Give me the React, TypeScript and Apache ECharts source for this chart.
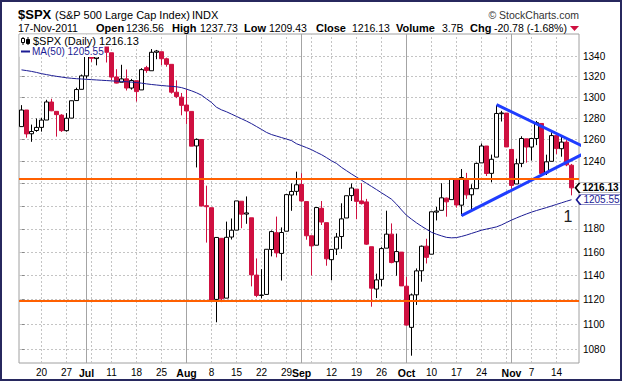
import React, { useEffect, useRef } from 'react';
import * as echarts from 'echarts';

// ---- categories (trading days, 2011) ----
const junDays = [14, 15, 16, 17, 20, 21, 22, 23, 24, 27, 28, 29, 30];
const julDays = [1, 5, 6, 7, 8, 11, 12, 13, 14, 15, 18, 19, 20, 21, 22, 25, 26, 27, 28, 29];
const augDays = [1, 2, 3, 4, 5, 8, 9, 10, 11, 12, 15, 16, 17, 18, 19, 22, 23, 24, 25, 26, 29, 30, 31];
const sepDays = [1, 2, 6, 7, 8, 9, 12, 13, 14, 15, 16, 19, 20, 21, 22, 23, 26, 27, 28, 29, 30];
const octDays = [3, 4, 5, 6, 7, 10, 11, 12, 13, 14, 17, 18, 19, 20, 21, 24, 25, 26, 27, 28, 31];
const novDays = [1, 2, 3, 4, 7, 8, 9, 10, 11, 14, 15, 16, 17];
const monthDays: [string, number[]][] = [
  ['Jun', junDays], ['Jul', julDays], ['Aug', augDays], ['Sep', sepDays], ['Oct', octDays], ['Nov', novDays],
];
const categories: string[] = monthDays.flatMap(([m, days]) => days.map((d) => `${m} ${d}`));

// ---- OHLC ----
const opens = [
  1272.22, 1287.87, 1265.53, 1268.58, 1271.5, 1278.4, 1295.48, 1286.6, 1283.04, 1268.44, 1280.21, 1296.85, 1307.64,
  1320.64, 1339.59, 1337.56, 1339.62, 1352.39, 1343.31, 1319.61, 1314.45, 1317.74, 1308.87, 1315.94, 1307.07, 1328.66, 1325.65, 1343.8, 1344.32, 1337.39, 1331.91, 1304.84, 1300.12,
  1292.59, 1286.56, 1254.25, 1260.23, 1200.28, 1198.48, 1120.23, 1171.77, 1121.3, 1172.87, 1178.86, 1204.22, 1192.89, 1189.62, 1140.47, 1123.55, 1124.36, 1162.16, 1176.69, 1158.85, 1177.91, 1209.76, 1213.0,
  1219.12, 1203.9, 1173.97, 1165.85, 1197.98, 1185.37, 1153.5, 1162.59, 1173.32, 1189.44, 1209.21, 1214.99, 1204.5, 1203.63, 1164.55, 1128.82, 1136.91, 1163.32, 1175.39, 1151.74, 1159.93,
  1131.21, 1097.42, 1124.03, 1144.11, 1165.03, 1158.15, 1194.6, 1196.19, 1206.96, 1205.65, 1224.47, 1200.75, 1223.46, 1209.92, 1215.39, 1238.72, 1254.19, 1229.17, 1243.97, 1284.39, 1284.96,
  1251.0, 1219.62, 1238.25, 1260.82, 1253.21, 1261.12, 1275.18, 1229.59, 1240.12, 1263.85, 1251.7, 1257.81, 1236.56,
];
const highs = [
  1292.5, 1287.87, 1274.11, 1279.82, 1280.42, 1297.62, 1298.61, 1286.6, 1283.93, 1284.91, 1296.8, 1309.21, 1321.97,
  1341.01, 1340.89, 1340.94, 1356.48, 1352.39, 1343.31, 1327.17, 1331.48, 1326.88, 1317.7, 1315.94, 1328.14, 1330.43, 1347.0, 1346.1, 1344.32, 1338.51, 1331.91, 1316.32, 1304.16,
  1307.38, 1286.56, 1261.2, 1260.23, 1218.11, 1198.48, 1172.88, 1171.77, 1186.29, 1189.04, 1204.49, 1204.22, 1208.47, 1189.62, 1154.54, 1145.49, 1162.35, 1178.56, 1190.68, 1181.23, 1210.28, 1220.1, 1230.71,
  1229.29, 1203.9, 1173.97, 1198.62, 1204.4, 1185.37, 1162.52, 1176.41, 1202.38, 1209.11, 1220.06, 1214.99, 1220.39, 1206.3, 1164.55, 1141.72, 1164.19, 1195.86, 1184.71, 1175.87, 1159.93,
  1138.99, 1125.12, 1146.07, 1165.55, 1171.4, 1194.91, 1199.24, 1220.25, 1207.46, 1224.61, 1224.47, 1233.1, 1229.64, 1219.36, 1239.03, 1256.55, 1254.19, 1246.28, 1292.66, 1287.08, 1284.96,
  1251.0, 1242.48, 1263.21, 1260.82, 1261.7, 1277.55, 1275.18, 1246.22, 1266.98, 1263.85, 1264.25, 1259.61, 1237.73,
];
const lows = [
  1272.22, 1261.9, 1258.07, 1267.4, 1267.56, 1278.4, 1286.79, 1262.87, 1267.24, 1267.53, 1280.21, 1296.85, 1307.64,
  1318.18, 1334.3, 1330.92, 1339.62, 1333.71, 1316.42, 1313.33, 1314.45, 1306.51, 1307.35, 1295.92, 1307.07, 1323.65, 1325.65, 1336.95, 1331.09, 1329.59, 1303.49, 1299.16, 1282.86,
  1274.73, 1254.03, 1234.56, 1199.54, 1168.09, 1119.28, 1101.54, 1118.01, 1121.3, 1170.74, 1178.86, 1180.53, 1184.36, 1131.03, 1122.05, 1121.09, 1124.36, 1156.3, 1155.47, 1135.91, 1177.91, 1195.77, 1209.35,
  1203.85, 1170.56, 1140.13, 1165.85, 1183.34, 1148.37, 1136.07, 1157.44, 1162.73, 1189.44, 1204.46, 1188.36, 1201.29, 1166.21, 1114.22, 1121.36, 1131.07, 1163.32, 1150.4, 1139.93, 1131.34,
  1098.92, 1074.77, 1115.68, 1134.95, 1150.26, 1158.15, 1187.3, 1196.19, 1190.58, 1205.65, 1198.55, 1191.48, 1206.31, 1197.34, 1215.39, 1238.72, 1226.79, 1221.06, 1243.97, 1277.01, 1253.16,
  1215.42, 1219.62, 1234.81, 1238.92, 1240.75, 1254.99, 1226.64, 1227.7, 1240.12, 1246.68, 1244.34, 1235.67, 1209.43,
];
const closes = [
  1287.87, 1265.42, 1267.64, 1271.5, 1278.36, 1295.52, 1287.14, 1283.5, 1268.45, 1280.1, 1296.67, 1307.41, 1320.64,
  1339.67, 1337.88, 1339.22, 1353.22, 1343.8, 1319.49, 1313.64, 1317.72, 1308.87, 1316.14, 1305.44, 1326.73, 1325.84, 1343.8, 1345.02, 1337.43, 1331.94, 1304.89, 1300.67, 1292.28,
  1286.94, 1254.05, 1260.34, 1200.07, 1199.38, 1119.46, 1172.53, 1120.76, 1172.64, 1178.81, 1204.49, 1192.76, 1193.89, 1140.65, 1123.53, 1123.82, 1162.35, 1177.6, 1159.27, 1176.8, 1210.08, 1212.92, 1218.89,
  1204.42, 1173.97, 1165.24, 1198.62, 1185.9, 1154.23, 1162.27, 1172.87, 1188.68, 1209.11, 1216.01, 1204.09, 1202.09, 1166.76, 1129.56, 1136.43, 1162.95, 1175.38, 1151.06, 1160.4, 1131.42,
  1099.23, 1123.95, 1144.03, 1164.97, 1155.46, 1194.89, 1195.54, 1207.25, 1203.66, 1224.58, 1200.86, 1225.38, 1209.88, 1215.39, 1238.25, 1254.19, 1229.05, 1242.0, 1284.59, 1285.09, 1253.3,
  1218.28, 1237.9, 1261.15, 1253.23, 1261.12, 1275.92, 1229.1, 1239.69, 1263.85, 1251.78, 1257.81, 1236.91, 1216.13,
];
const priorClose = 1271.83;

// ---- 50-day moving average ----
const ma50 = [
  1326.5, 1325.8, 1325.0, 1324.0, 1322.8, 1321.9, 1321.0, 1320.2, 1319.5, 1318.8, 1318.3, 1317.9, 1317.6,
  1317.3, 1317.0, 1316.7, 1316.4, 1316.1, 1315.8, 1315.5, 1315.3, 1315.0, 1314.6, 1314.2, 1313.6, 1312.9, 1312.3, 1311.8, 1311.3, 1310.9, 1310.5, 1310.1, 1309.3,
  1307.8, 1306.2, 1304.3, 1302.0, 1298.5, 1295.0, 1290.5, 1288.0, 1286.2, 1284.0, 1281.8, 1279.6, 1277.4, 1275.0, 1272.3, 1269.6, 1266.8, 1264.8, 1263.4, 1262.0, 1260.6, 1259.2, 1256.3,
  1254.5, 1252.7, 1250.8, 1248.4, 1246.2, 1243.5, 1240.6, 1238.2, 1234.6, 1231.6, 1228.6, 1225.8, 1223.0, 1220.2, 1217.4, 1214.6, 1211.7, 1208.9, 1206.0, 1201.6, 1196.5,
  1191.8, 1188.4, 1185.2, 1182.3, 1179.6, 1177.0, 1175.3, 1173.9, 1172.6, 1172.2, 1172.4, 1173.4, 1174.6, 1176.0, 1177.4, 1178.8, 1179.8, 1180.7, 1181.7, 1183.4, 1185.5,
  1187.6, 1189.5, 1191.3, 1193.0, 1194.6, 1196.0, 1197.3, 1198.6, 1200.0, 1201.4, 1202.8, 1204.2, 1205.55,
];

// ---- axis ticks / gridlines ----
const yTicks = [1080, 1100, 1120, 1140, 1160, 1180, 1200, 1220, 1240, 1260, 1280, 1300, 1320, 1340];
const yLabelTicks = [1080, 1100, 1120, 1140, 1160, 1180, 1240, 1260, 1280, 1300, 1320, 1340]; // 1200/1220 sit under the price tags
const yMinPrice = 1069;
const yMaxPrice = 1362;
const xTickLabels: [string, string][] = [
  ['Jun 20', '20'], ['Jun 27', '27'], ['Jul 1', 'Jul'], ['Jul 11', '11'], ['Jul 18', '18'], ['Jul 25', '25'],
  ['Aug 1', 'Aug'], ['Aug 8', '8'], ['Aug 15', '15'], ['Aug 22', '22'], ['Aug 29', '29'], ['Sep 1', 'Sep'],
  ['Sep 12', '12'], ['Sep 19', '19'], ['Sep 26', '26'], ['Oct 3', 'Oct'], ['Oct 10', '10'], ['Oct 17', '17'],
  ['Oct 24', '24'], ['Nov 1', 'Nov'], ['Nov 7', '7'], ['Nov 14', '14'],
];
const monthNames = ['Jul', 'Aug', 'Sep', 'Oct', 'Nov'];
const weekGridDates = ['Jun 20', 'Jun 27', 'Jul 5', 'Jul 11', 'Jul 18', 'Jul 25', 'Aug 8', 'Aug 15', 'Aug 22', 'Aug 29',
  'Sep 6', 'Sep 12', 'Sep 19', 'Sep 26', 'Oct 10', 'Oct 17', 'Oct 24', 'Oct 31', 'Nov 7', 'Nov 14'];
const monthGridDates = ['Jul 1', 'Aug 1', 'Sep 1', 'Oct 3', 'Nov 1'];

// ---- annotations ----
const supportLevels = [1221.5, 1119.5];
const triangleUpperStart: [string, number] = ['Oct 27', 1293];
const triangleApex: [number, number] = [113.84, 1250.4]; // slot position beyond the last bar
const triangleLowerStart: [string, number] = ['Oct 18', 1191.5];
const lastClose = 1216.13;
const lastMA = 1205.55;

const RED = '#cf1040';
const NAVY = '#1c1c94';
const FONT = '"Liberation Sans", Arial, sans-serif';

export default function App() {
  const ref = useRef<HTMLDivElement>(null);
  useEffect(() => {
    if (!ref.current) return;
    const chart = echarts.init(ref.current, undefined, { renderer: 'svg' });
    const L = Math.log;
    const slots = [...categories, ''];
    const lastIdx = categories.length - 1;
    const labelMap: Record<string, string> = {};
    xTickLabels.forEach(([d, t]) => { labelMap[d] = t; });

    const candleData = closes.map((c, i) => {
      const o = opens[i];
      const prev = i === 0 ? priorClose : closes[i - 1];
      const col = c >= prev ? '#000' : RED;
      const fill = c > o ? '#fff' : col;
      return {
        value: [L(o), L(c), L(lows[i]), L(highs[i])],
        itemStyle: { color: fill, color0: fill, borderColor: col, borderColor0: col, borderColorDoji: col, borderWidth: 1 },
      };
    });

    const lnTicks = yTicks.map((v) => L(v));
    const lnLabelTicks = yLabelTicks.map((v) => L(v));
    const tagPath = 'path://M0,5L4,0L46,0L46,10L4,10Z';

    const gridLines = [
      ...weekGridDates.map((d) => ({ xAxis: d, lineStyle: { color: '#c4c4c4', type: [2, 2], width: 1 } })),
      ...monthGridDates.map((d) => ({ xAxis: d, lineStyle: { color: '#a4a4a4', type: 'solid', width: 1 } })),
    ];

    const headerY1 = 14;
    const headerY2 = 27.5;
    const hdr = (x: number, y: number, text: string, font: string, fill = '#000', align = 'left') => ({
      type: 'text', x, y, z: 100,
      style: { text, font, fill, align, verticalAlign: 'middle' },
    });

    chart.setOption({
      animation: false,
      backgroundColor: '#fff',
      grid: { left: 19, right: 43, top: 34, bottom: 18, show: true, borderColor: '#a0a0a0', borderWidth: 1, backgroundColor: '#fff' },
      xAxis: [
        {
          type: 'category', data: slots, boundaryGap: true,
          axisLine: { show: false }, axisTick: { show: false }, splitLine: { show: false },
          axisLabel: {
            interval: 0, margin: 4, fontSize: 10, color: '#000', fontFamily: FONT,
            formatter: (v: string) => {
              const t = labelMap[v];
              if (!t) return '';
              return monthNames.includes(t) ? `{m|${t}}` : t;
            },
            rich: { m: { fontWeight: 'bold', fontSize: 10.5, fontFamily: FONT, color: '#000' } },
          },
        },
        { type: 'value', min: -0.5, max: slots.length - 0.5, show: false },
      ],
      yAxis: {
        type: 'value', position: 'right', min: L(yMinPrice), max: L(yMaxPrice),
        axisLine: { show: false },
        axisTick: { show: true, length: 3, customValues: lnTicks, lineStyle: { color: '#888' } },
        axisLabel: {
          customValues: lnLabelTicks, margin: 4, fontSize: 10, color: '#000', fontFamily: FONT,
          formatter: (v: number) => String(Math.round(Math.exp(v))),
        },
        splitLine: { show: true, lineStyle: { color: '#c4c4c4', type: [2, 2], width: 1 } },
      },
      series: [
        {
          type: 'candlestick', name: '$SPX', data: candleData, barWidth: 3.8, z: 2,
          markLine: {
            silent: true, symbol: 'none', label: { show: false }, z: 5,
            lineStyle: { color: '#ff6000', width: 2, type: 'solid' },
            data: supportLevels.map((p) => ({ yAxis: L(p) })),
          },
          markPoint: {
            silent: true, z: 6,
            data: [{
              coord: [lastIdx, L(lastClose)], symbol: tagPath, symbolSize: [46, 10], symbolOffset: [27, 0], symbolKeepAspect: false,
              itemStyle: { color: '#fff', borderColor: '#000', borderWidth: 1 },
              label: { show: true, position: 'inside', offset: [2, 0], formatter: lastClose.toFixed(2), fontWeight: 'bold', fontSize: 10, color: '#000', fontFamily: FONT },
            }],
          },
        },
        {
          type: 'line', name: 'MA(50)', data: ma50.map((v) => L(v)), showSymbol: false, symbol: 'none', z: 3,
          lineStyle: { color: NAVY, width: 1 },
          markLine: { silent: true, symbol: 'none', label: { show: false }, z: 1, data: gridLines },
          markPoint: {
            silent: true, z: 6,
            data: [{
              coord: [lastIdx, L(lastMA)], symbol: tagPath, symbolSize: [46, 10], symbolOffset: [28, 0], symbolKeepAspect: false,
              itemStyle: { color: '#fff', borderColor: NAVY, borderWidth: 1 },
              label: { show: true, position: 'inside', offset: [2, 0], formatter: lastMA.toFixed(2), fontSize: 10, color: NAVY, fontFamily: FONT },
            }],
          },
        },
        {
          type: 'line', name: 'triangle', xAxisIndex: 1, clip: false, z: 4, silent: true, showSymbol: false, symbol: 'none',
          lineStyle: { color: '#1f3dff', width: 3 },
          data: [
            [categories.indexOf(triangleUpperStart[0]), L(triangleUpperStart[1])],
            [triangleApex[0], L(triangleApex[1])],
            [categories.indexOf(triangleLowerStart[0]), L(triangleLowerStart[1])],
          ],
        },
      ],
      graphic: [
        // header
        hdr(18, headerY1, '$SPX', `bold 13px ${FONT}`),
        hdr(55, headerY1 + 0.5, '(S&P 500 Large Cap Index)', `11px ${FONT}`),
        hdr(192, headerY1 + 0.5, 'INDX', `11px ${FONT}`),
        hdr(579, headerY1 + 0.5, '© StockCharts.com', `10.5px ${FONT}`, '#333', 'right'),
        hdr(18, headerY2, '17-Nov-2011', `10.5px ${FONT}`),
        hdr(96, headerY2, 'Open', `bold 11px ${FONT}`),
        hdr(126, headerY2, '1236.56', `10.5px ${FONT}`),
        hdr(172, headerY2, 'High', `bold 11px ${FONT}`),
        hdr(200, headerY2, '1237.73', `10.5px ${FONT}`),
        hdr(244, headerY2, 'Low', `bold 11px ${FONT}`),
        hdr(269, headerY2, '1209.43', `10.5px ${FONT}`),
        hdr(316, headerY2, 'Close', `bold 11px ${FONT}`),
        hdr(352, headerY2, '1216.13', `10.5px ${FONT}`),
        hdr(396, headerY2, 'Volume', `bold 11px ${FONT}`),
        hdr(442, headerY2, '3.7B', `10.5px ${FONT}`),
        hdr(470, headerY2, 'Chg', `bold 11px ${FONT}`),
        hdr(494, headerY2, '-20.78 (-1.68%)', `10.5px ${FONT}`),
        { type: 'polygon', z: 100, shape: { points: [[570, 26], [579, 26], [574.5, 31]] }, style: { fill: RED } },
        // legend box
        { type: 'rect', z: 90, shape: { x: 19.5, y: 34.5, width: 122, height: 12 }, style: { fill: '#fff' } },
        { type: 'rect', z: 90, shape: { x: 19.5, y: 46, width: 85, height: 11 }, style: { fill: '#fff' } },
        { type: 'line', z: 100, shape: { x1: 23, y1: 37, x2: 23, y2: 45 }, style: { stroke: '#000', lineWidth: 1 } },
        { type: 'rect', z: 100, shape: { x: 21.5, y: 38.5, width: 3, height: 4 }, style: { fill: '#fff', stroke: '#000', lineWidth: 1 } },
        { type: 'line', z: 100, shape: { x1: 28, y1: 37, x2: 28, y2: 45 }, style: { stroke: '#000', lineWidth: 1 } },
        { type: 'rect', z: 100, shape: { x: 26.5, y: 39.5, width: 3, height: 4 }, style: { fill: '#000', stroke: '#000', lineWidth: 1 } },
        hdr(33, 41, '$SPX (Daily) 1216.13', `11px ${FONT}`),
        { type: 'line', z: 100, shape: { x1: 21, y1: 51.5, x2: 30, y2: 51.5 }, style: { stroke: NAVY, lineWidth: 2 } },
        hdr(32, 51.7, 'MA(50) 1205.55', `10px ${FONT}`, NAVY),
        // annotation
        hdr(568, 216, '1', `16px ${FONT}`, '#222', 'center'),
        // outer frame
        { type: 'rect', z: 110, shape: { x: 1, y: 1, width: 620, height: 379 }, style: { fill: 'none', stroke: '#27285e', lineWidth: 2 } },
      ],
    });
    return () => chart.dispose();
  }, []);
  return <div ref={ref} style={{ position: 'fixed', left: 0, top: 0, width: 622, height: 381, background: '#fff' }} />;
}
